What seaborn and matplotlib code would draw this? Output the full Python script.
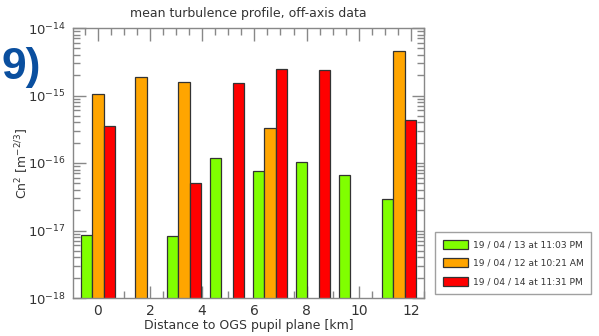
import matplotlib
matplotlib.use("Agg")
import matplotlib.pyplot as plt
import matplotlib.ticker as mticker
import seaborn as sns
import pandas as pd
import numpy as np

# ---- data ----
positions = [0.0, 1.65, 3.3, 4.95, 6.6, 8.25, 9.9, 11.55]
series_names = ["19 / 04 / 13 at 11:03 PM", "19 / 04 / 12 at 10:21 AM", "19 / 04 / 14 at 11:31 PM"]
green_vals = [8.7e-18, None, 8.2e-18, 1.17e-16, 7.7e-17, 1.02e-16, 6.7e-17, 2.96e-17]
orange_vals = [1.06e-15, 1.86e-15, 1.6e-15, None, 3.27e-16, None, None, 4.56e-15]
red_vals = [3.53e-16, None, 5.06e-17, 1.53e-15, 2.5e-15, 2.36e-15, None, 4.34e-16]
colors = ["#80ff00", "#ffa500", "#ff0000"]
xticks = [0, 2, 4, 6, 8, 10, 12]
yticks = [1e-18, 1e-17, 1e-16, 1e-15, 1e-14]

rows = []
for name, vals in zip(series_names, [green_vals, orange_vals, red_vals]):
    for p, v in zip(positions, vals):
        if v is not None:
            rows.append({"pos": p, "val": v, "series": name})
df = pd.DataFrame(rows)

sns.set_style("ticks")
plt.rcParams['font.family'] = ['DejaVu Sans']
txt = "#333333"
axc = "#888888"

fig = plt.figure(figsize=(5.99, 3.36), dpi=100)
ax = fig.add_axes([73/599, 38/336, 351/599, 270/336])

sns.barplot(data=df, x="pos", y="val", hue="series", hue_order=series_names,
            palette=colors, saturation=1, native_scale=True, dodge=True, errorbar=None,
            edgecolor="#333333", linewidth=0.9, ax=ax, legend=True)

ax.set_yscale("log")
ax.set_ylim(1e-18, 1e-14)
ax.set_xlim(-0.95, 12.5)

ax.set_xticks(xticks)
ax.set_xticklabels([str(t) for t in xticks])
ax.xaxis.set_minor_locator(mticker.MultipleLocator(0.5))
ax.set_yticks(yticks)
ax.set_yticklabels([r"$10^{%d}$" % int(np.log10(t)) for t in yticks])
ax.yaxis.set_minor_locator(mticker.LogLocator(base=10, subs=np.arange(2, 10)))
ax.yaxis.set_minor_formatter(mticker.NullFormatter())

ax.tick_params(which="both", direction="in", top=True, right=True, color=axc, width=1)
ax.tick_params(which="major", length=9)
ax.tick_params(which="minor", length=5)
ax.tick_params(axis="x", which="major", labelsize=10, labelcolor=txt, pad=4)
ax.tick_params(axis="y", which="major", labelsize=9.5, labelcolor=txt, pad=5)
for s in ax.spines.values():
    s.set_color(axc)
    s.set_linewidth(1)

ax.set_xlabel("Distance to OGS pupil plane [km]", fontsize=9, color=txt, labelpad=1)
ax.set_ylabel(r"Cn$^2$ [m$^{-2/3}$]", fontsize=9, color=txt)
ax.yaxis.set_label_coords(-0.12, 0.5)
ax.set_title("mean turbulence profile, off-axis data", fontsize=9, color=txt, pad=8)

leg = ax.legend(loc="lower left", bbox_to_anchor=(435/599, 42/336), bbox_transform=fig.transFigure,
                fontsize=6.6, frameon=True, fancybox=False, edgecolor=axc,
                handlelength=2.7, handleheight=1.15, borderpad=0.85, labelspacing=0.95,
                handletextpad=0.55, borderaxespad=0)
leg.get_frame().set_linewidth(1)
for t in leg.get_texts():
    t.set_color(txt)

fig.text(0.002, 0.80, "9)", fontsize=32, fontweight="bold", color="#0a4f9f",
         family="Liberation Sans", ha="left", va="center")

fig.savefig("out.png", dpi=100)
